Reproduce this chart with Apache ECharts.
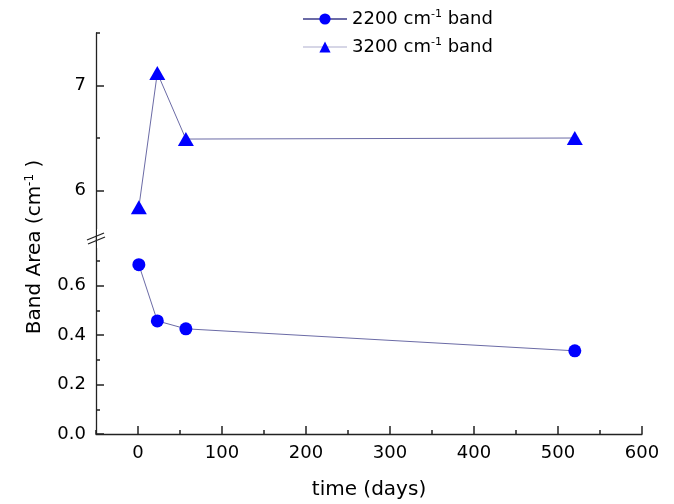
<!DOCTYPE html>
<html><head><meta charset="utf-8">
<script src="https://cdn.jsdelivr.net/npm/echarts@6/dist/echarts.min.js"></script>
<style>html,body{margin:0;padding:0;background:#fff}#c{width:674px;height:504px}</style>
</head><body><div id="c"></div>
<script>
const days = [1, 23, 57, 520];
const band2200 = [0.684, 0.457, 0.425, 0.336];
const band3200 = [5.84, 7.12, 6.49, 6.50];
const seriesNames = ['2200', '3200'];
const xMajorTicks = [0, 100, 200, 300, 400, 500, 600];
const yLowerLabels = [0, 0.2, 0.4, 0.6];
const yUpperTicks = [6, 7];

const FONT = 'DejaVu Sans';
const lineCol = '#6b6ba6';
const markCol = '#0000ff';

const chart = echarts.init(document.getElementById('c'), null, {renderer: 'canvas'});
const labelStyle = {color: '#000', fontFamily: FONT, fontSize: 18};
const axisLine = {show: true, onZero: false, lineStyle: {color: '#222', width: 1.3}};
const noLine = {show: false, onZero: false};
const tickLine = {color: '#222', width: 1.5};

chart.setOption({
  backgroundColor: '#fff',
  animation: false,
  legend: {
    orient: 'vertical', left: 297, top: 4, itemWidth: 44, itemHeight: 14, itemGap: 9,
    data: [
      {name: seriesNames[0], lineStyle: {color: lineCol}},
      {name: seriesNames[1], lineStyle: {color: '#d6d6e6'}}
    ],
    formatter: n => `{n|${n} cm}{s|-1}{n| band}`,
    textStyle: {
      fontFamily: FONT, color: '#000',
      rich: {
        n: {fontFamily: FONT, fontSize: 18, color: '#000', lineHeight: 20},
        s: {fontFamily: FONT, fontSize: 11, color: '#000', verticalAlign: 'top', lineHeight: 12}
      }
    }
  },
  grid: [
    {left: 96, right: 32, top: 236, height: 198},
    {left: 96, right: 32, top: 33, height: 210}
  ],
  xAxis: [
    {gridIndex: 0, type: 'value', min: -50, max: 600, interval: 50, position: 'bottom',
     axisLine, axisTick: {show: true, inside: true, length: 4, lineStyle: tickLine},
     axisLabel: {show: false}, splitLine: {show: false}},
    {gridIndex: 0, type: 'value', min: -50, max: 600, position: 'bottom', offset: 0,
     axisLine: noLine,
     axisTick: {show: true, inside: true, length: 8, customValues: xMajorTicks, lineStyle: tickLine},
     axisLabel: Object.assign({show: true, margin: 10, customValues: xMajorTicks}, labelStyle),
     splitLine: {show: false},
     name: 'time (days)', nameLocation: 'middle', nameGap: 46,
     nameTextStyle: {fontFamily: FONT, fontSize: 20, color: '#000'}},
    {gridIndex: 1, type: 'value', min: -50, max: 600, show: false, splitLine: {show: false}}
  ],
  yAxis: [
    {gridIndex: 0, type: 'value', min: 0, max: 0.8, interval: 0.2, position: 'left',
     axisLine,
     axisTick: {show: true, inside: true, length: 8, lineStyle: tickLine},
     minorTick: {show: true, splitNumber: 2, length: 4, lineStyle: tickLine},
     axisLabel: Object.assign({margin: 10, customValues: yLowerLabels, formatter: v => v.toFixed(1)}, labelStyle),
     splitLine: {show: false}, minorSplitLine: {show: false}},
    {gridIndex: 1, type: 'value', min: 5.5, max: 7.5, interval: 0.5, position: 'left',
     axisLine,
     axisTick: {show: true, inside: true, length: 4, lineStyle: tickLine},
     axisLabel: {show: false}, splitLine: {show: false}},
    {gridIndex: 1, type: 'value', min: 5.5, max: 7.5, position: 'left', offset: 0,
     axisLine: noLine,
     axisTick: {show: true, inside: true, length: 8, customValues: yUpperTicks, lineStyle: tickLine},
     axisLabel: Object.assign({margin: 10, customValues: yUpperTicks}, labelStyle),
     splitLine: {show: false}}
  ],
  series: [
    {name: seriesNames[0], type: 'line', xAxisIndex: 0, yAxisIndex: 0,
     data: days.map((d, i) => [d, band2200[i]]),
     symbol: 'circle', symbolSize: 13,
     lineStyle: {color: lineCol, width: 1}, itemStyle: {color: markCol}},
    {name: seriesNames[1], type: 'line', xAxisIndex: 2, yAxisIndex: 1,
     data: days.map((d, i) => [d, band3200[i]]),
     symbol: 'triangle', symbolSize: [16, 14],
     lineStyle: {color: lineCol, width: 1}, itemStyle: {color: markCol}}
  ],
  graphic: [
    {type: 'rect', shape: {x: 97, y: 229, width: 10, height: 19}, style: {fill: '#fff'}, z: 100},
    {type: 'line', shape: {x1: 87, y1: 240, x2: 104, y2: 233}, style: {stroke: '#222', lineWidth: 1.3}, z: 101},
    {type: 'line', shape: {x1: 88, y1: 244, x2: 105, y2: 237}, style: {stroke: '#222', lineWidth: 1.3}, z: 101},
    {type: 'text', x: 35, y: 247, rotation: Math.PI / 2, z: 101,
     style: {
       text: '{n|Band Area (cm}{s|-1}{n| )}',
       align: 'center', verticalAlign: 'middle',
       rich: {
         n: {fontFamily: FONT, fontSize: 20, fill: '#000', lineHeight: 22},
         s: {fontFamily: FONT, fontSize: 12, fill: '#000', verticalAlign: 'top', lineHeight: 12}
       }
     }}
  ]
});
</script>
</body></html>
